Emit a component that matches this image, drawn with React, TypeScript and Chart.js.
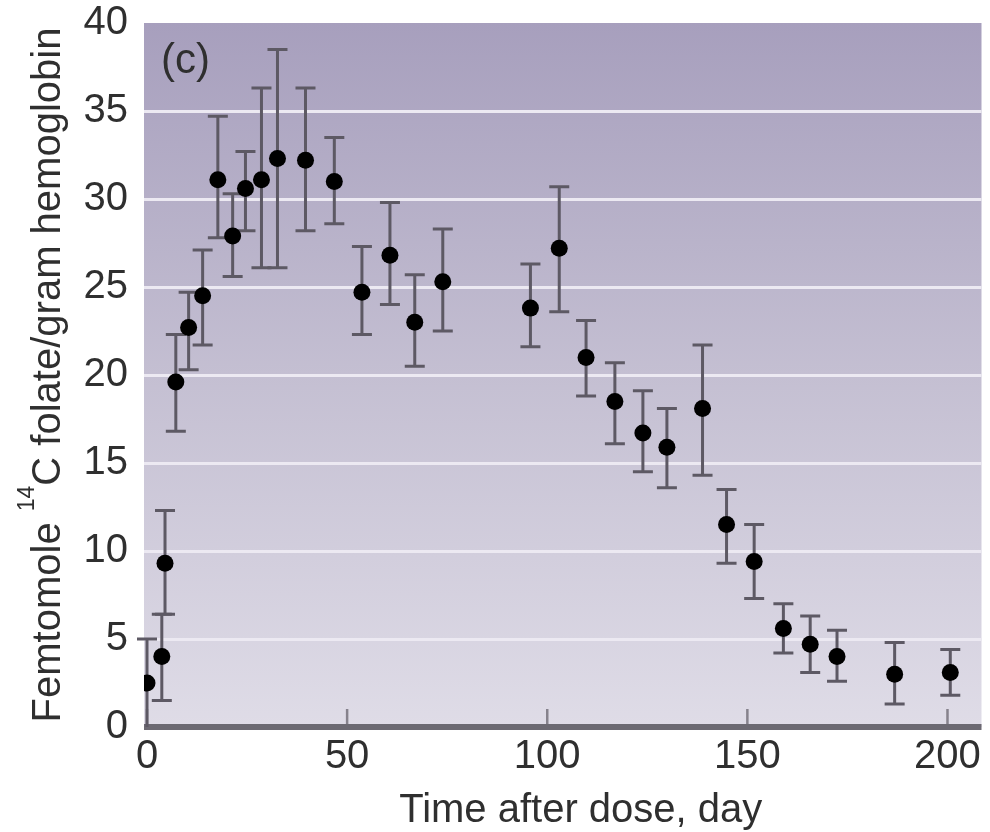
import React, { useEffect, useRef } from "react";
import { Chart, registerables } from "chart.js";

Chart.register(...registerables);

const days = [0, 3.7, 4.5, 7.2, 10.4, 13.9, 17.7, 21.4, 24.6, 28.6, 32.6, 39.6, 46.8, 53.7, 60.7, 66.9, 73.9, 95.8, 103, 109.7, 116.9, 123.9, 129.9, 138.8, 144.8, 151.7, 159, 165.7, 172.4, 186.8, 200.7];
const means = [2.5, 4.0, 9.3, 19.6, 22.7, 24.5, 31.1, 27.9, 30.6, 31.1, 32.3, 32.2, 31.0, 24.7, 26.8, 23.0, 25.3, 23.8, 27.2, 21.0, 18.5, 16.7, 15.9, 18.1, 11.5, 9.4, 5.6, 4.7, 4.0, 3.0, 3.1];
const upper = [5.0, 6.4, 12.3, 22.3, 24.7, 27.1, 34.7, 30.3, 32.7, 36.3, 38.5, 36.3, 33.5, 27.3, 29.8, 25.7, 28.3, 26.3, 30.7, 23.1, 20.7, 19.1, 18.1, 21.7, 13.5, 11.5, 7.0, 6.3, 5.5, 4.8, 4.4];
const lower = [0, 1.5, 6.4, 16.8, 20.3, 21.7, 27.8, 25.6, 28.2, 26.1, 26.1, 28.2, 28.6, 22.3, 24.0, 20.5, 22.5, 21.6, 23.6, 18.8, 16.1, 14.5, 13.6, 14.3, 9.3, 7.3, 4.2, 3.1, 2.6, 1.3, 1.8];

const xTicks = [0, 50, 100, 150, 200];
const yTicks = [0, 5, 10, 15, 20, 25, 30, 35, 40];
const xTitle = "Time after dose, day";
const yTitleParts = ["Femtomole ", "14", "C folate/gram hemoglobin"];
const panelLabel = "(c)";

const FONT = "'Liberation Sans', Arial, Helvetica, sans-serif";
const TEXT = "#2f2f2f";

const decorPlugin = {
  id: "decor",
  beforeDraw(chart: any) {
    const { ctx, chartArea: a } = chart;
    ctx.save();
    const g = ctx.createLinearGradient(0, a.top, 0, a.bottom);
    g.addColorStop(0, "#a79fbd");
    g.addColorStop(0.5, "#c4bfd2");
    g.addColorStop(1, "#dfdce7");
    ctx.fillStyle = g;
    ctx.fillRect(a.left, a.top, a.right - a.left, a.bottom - a.top);
    ctx.restore();
  },
  beforeDatasetsDraw(chart: any) {
    const { ctx, chartArea: a, scales } = chart;
    const xs = scales.x;
    const ys = scales.y;
    ctx.save();
    // bottom axis
    ctx.strokeStyle = "#6c6972";
    ctx.lineWidth = 6;
    ctx.beginPath();
    ctx.moveTo(a.left, a.bottom);
    ctx.lineTo(a.right, a.bottom);
    ctx.stroke();
    // inward ticks
    ctx.strokeStyle = "#86828c";
    ctx.lineWidth = 2.5;
    xTicks.forEach((v) => {
      const px = xs.getPixelForValue(v);
      ctx.beginPath();
      ctx.moveTo(px, a.bottom - 3);
      ctx.lineTo(px, a.bottom - 18);
      ctx.stroke();
    });
    // error bars
    ctx.strokeStyle = "#5d5964";
    ctx.lineWidth = 3;
    const cap = 10;
    days.forEach((d, i) => {
      const px = xs.getPixelForValue(d);
      const pHi = ys.getPixelForValue(upper[i]);
      const pLo = ys.getPixelForValue(lower[i]);
      ctx.beginPath();
      ctx.moveTo(px, pHi);
      ctx.lineTo(px, pLo);
      ctx.moveTo(px - cap, pHi);
      ctx.lineTo(px + cap, pHi);
      if (lower[i] > 0) {
        ctx.moveTo(px - cap, pLo);
        ctx.lineTo(px + cap, pLo);
      }
      ctx.stroke();
    });
    ctx.restore();
  },
  afterDraw(chart: any) {
    const { ctx, chartArea: a } = chart;
    ctx.save();
    ctx.fillStyle = TEXT;
    // panel label
    ctx.font = `42px ${FONT}`;
    ctx.textAlign = "left";
    ctx.textBaseline = "alphabetic";
    ctx.fillText(panelLabel, a.left + 17, a.top + 50);
    // x title
    ctx.font = `40px ${FONT}`;
    ctx.textAlign = "center";
    ctx.fillText(xTitle, (a.left + a.right) / 2 + 18, 822);
    // y title with superscript
    const big = `40px ${FONT}`;
    const small = `23px ${FONT}`;
    ctx.font = big;
    const w0 = ctx.measureText(yTitleParts[0]).width;
    const w2 = ctx.measureText(yTitleParts[2]).width;
    ctx.font = small;
    const w1 = ctx.measureText(yTitleParts[1]).width;
    const total = w0 + w1 + w2;
    ctx.translate(60, (a.top + a.bottom) / 2);
    ctx.rotate(-Math.PI / 2);
    ctx.textAlign = "left";
    let x = -total / 2;
    ctx.font = big;
    ctx.fillText(yTitleParts[0], x, 0);
    x += w0;
    ctx.font = small;
    ctx.fillText(yTitleParts[1], x, -26);
    x += w1;
    ctx.font = big;
    ctx.fillText(yTitleParts[2], x, 0);
    ctx.restore();
  },
};

export default function App() {
  const ref = useRef<HTMLCanvasElement | null>(null);
  useEffect(() => {
    if (!ref.current) return;
    const chart = new Chart(ref.current, {
      type: "scatter",
      data: {
        datasets: [
          {
            data: days.map((d, i) => ({ x: d, y: means[i] })),
            backgroundColor: "#000000",
            borderColor: "#000000",
            pointRadius: 8.5,
            pointHoverRadius: 8.5,
            borderWidth: 0,
          },
        ],
      },
      plugins: [decorPlugin],
      options: {
        animation: false,
        responsive: false,
        events: [],
        layout: { padding: { top: 23, right: 5, left: 0, bottom: 0 } },
        plugins: { legend: { display: false }, tooltip: { enabled: false } },
        scales: {
          x: {
            type: "linear",
            min: -0.75,
            max: 208.5,
            afterBuildTicks: (s: any) => {
              s.ticks = xTicks.map((v) => ({ value: v }));
            },
            afterFit: (s: any) => {
              s.height = 105;
              s.paddingLeft = 0;
              s.paddingRight = 0;
              s.paddingTop = 0;
              s.paddingBottom = 0;
            },
            grid: { display: false, drawTicks: false },
            border: { display: false },
            ticks: {
              font: { family: FONT, size: 40 },
              color: TEXT,
              padding: 6,
              maxRotation: 0,
              autoSkip: false,
            },
          },
          y: {
            type: "linear",
            min: 0,
            max: 40,
            afterBuildTicks: (s: any) => {
              s.ticks = yTicks.map((v) => ({ value: v }));
            },
            afterFit: (s: any) => {
              s.width = 144;
              s.paddingTop = 0;
              s.paddingBottom = 0;
              s.paddingLeft = 0;
              s.paddingRight = 0;
            },
            grid: {
              drawTicks: false,
              lineWidth: 3,
              color: (c: any) =>
                c.tick && (c.tick.value === 0 || c.tick.value === 40) ? "rgba(0,0,0,0)" : "#ece9f2",
            },
            border: { display: false },
            ticks: {
              font: { family: FONT, size: 40 },
              color: TEXT,
              padding: 16,
              autoSkip: false,
            },
          },
        },
      },
    });
    return () => chart.destroy();
  }, []);
  return (
    <div style={{ position: "fixed", left: 0, top: 0, width: 990, height: 832, background: "#ffffff" }}>
      <canvas ref={ref} width={990} height={832} style={{ display: "block" }} />
    </div>
  );
}
